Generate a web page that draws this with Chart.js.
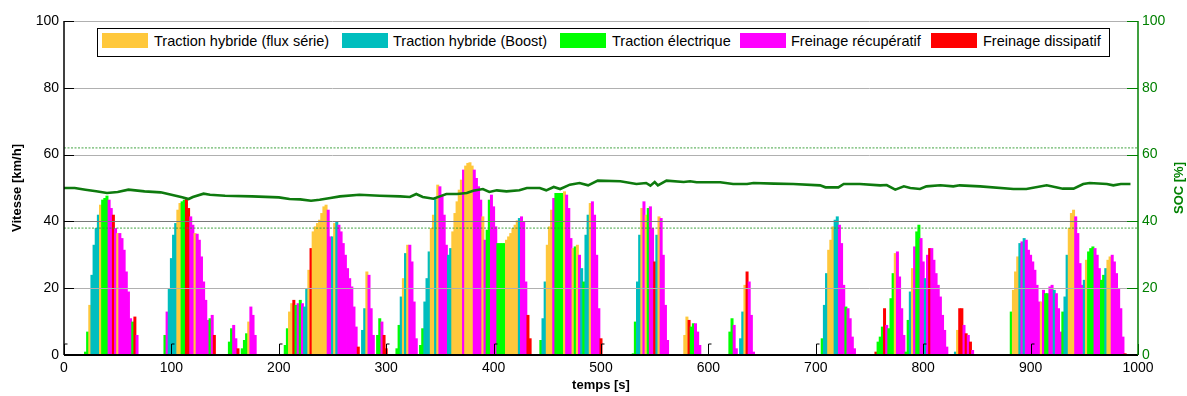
<!DOCTYPE html>
<html><head><meta charset="utf-8">
<script src="https://cdn.jsdelivr.net/npm/chart.js@4"></script>
<style>
html,body{margin:0;padding:0;background:#fff;}
#wrap{position:relative;width:1187px;height:396px;overflow:hidden;}
#c{position:absolute;left:0;top:0;}
#legend{position:absolute;left:97px;top:28px;width:1011px;height:27px;border:1px solid #000;background:#fff;font:14.5px "Liberation Sans",Arial,sans-serif;}
.sw{position:absolute;top:4px;width:46px;height:15px;}
.lt{position:absolute;top:4px;line-height:17px;white-space:nowrap;color:#000;}
</style></head>
<body><div id="wrap"><canvas id="c" width="1187" height="396" style="width:1187px;height:396px"></canvas><div id="legend"></div></div>
<script>
// ---------- data ----------
const modeKeys   = ['S','B','E','R','D'];
const modeLabels = ['Traction hybride (flux série)','Traction hybride (Boost)','Traction électrique','Freinage récupératif','Freinage dissipatif'];
const modeColors = ['#FFC83C','#00BEBE','#00FF00','#FF00FF','#FF0000'];

// start time [s] of each driving segment; bars every 2 s
const segStart = [20,94,154,166,206,278,292,310,332,444,530,578,620,630,706,756,784,830,882];
// vehicle speed [km/h]
const segSpeed = [
 [1,7,15,24,33,38,42,45,46.5,47,47.7,46.5,44,42,38,36.5,36.5,35,31.5,25,19,11,10,11.5,6],
 [6,13,20,29,36,39.5,43.5,45.5,46,46.5,47,44,41.5,39,36.5,36.3,34.5,29.5,22,16.5,10.5,11,12,6],
 [4,8,9,5,2],
 [2,4.5,6.5,10,14.5,12,6],
 [3,8,13,15.5,16.5,15,15.5,16.5,15.5,14.5,20,25.5,32,37,38.5,39.5,40.5,42.5,44.5,45,43.5,35.5,35.5,39.5,40,39,37,33.5,30,26,23,20.5,14.5,8.5,2.5],
 [7.5,14,25,24,14,6],
 [6,11,10,6,2],
 [2,9,17.5,23,30.5,33,33,28,16,5],
 [3,8,16,23,31,38,42,47,51,50.5,48,42,33,30,32,37,42.5,46,49.5,52.5,55.5,56.7,57.5,57.7,56.7,55.5,53,50.5,46.5,41.5,34.5,37.5,46.5,48,44.5,38.5,33.5,33.5,33.5,33.5,34.5,35.5,36.5,38,39,40.3,41,41.5,40,22,12,5],
 [4.5,11,22,33,38.5,43.5,47,48.5,48.5,48.5,48.5,49,48,44,35,32,32.5,33,30,26,22,36,42,45.5,46,42,30,14,5],
 [0.5,10,22,36,44,46,42,44,44.5,38,28,36,41.5,41,30,15,4.5],
 [6,11.5,10.5,8.5,9.5,9.5,7,3],
 [7,11,9,2],
 [5,13,21,25,22,12,1],
 [5,15,24.5,31.5,34.5,38.5,40.5,41.5,39,33.5,21,14.5,14,11,5.5,2],
 [1,4,5.5,8.5,14,9,8,17,24.5,30.5,31,23.5,14,6],
 [1,10.5,19,26,32.5,37,39,35,28,23,30,32,32,28.5,24.5,21,17.5,12,7.5,2.5],
 [1,7.5,14,14,9,6.5,6,4,1.5],
 [13,19.5,25,29.5,33.5,34,35,34.5,31.5,30,28,25.5,21,16,16,19.5,18.5,18.5,20.5,21,19.5,18.5,14,7,13,17.5,30,38,42.5,43.5,41.5,36.5,27.5,21,22.5,28.5,31,32,32.5,32,30,26,22.5,24,26,28.5,29.5,30,28,24.5,20,14,5.5,0.5]
];
// operating mode of each bar (S series, B boost, E electric, R regen, D dissipative)
const segMode = [
 "EESBB BBSEE ERRDR SRRRR RREDR",
 "ERBBB BSSEE DDRRS RRRRR RERD",
 "EERRD",
 "EEESRRR",
 "EESSD ERERB BSDSS SSSSS RRBSB RRRRR RRRRD",
 "BBSRRR",
 "EERDD",
 "EEBSBSRRRR",
 "EEBBB SSBSR RRRBB SSSSS RSSSS RRRRS REERR REEEE SSSSS SBRRR DD",
 "EBBSS SREEE ESRRR SESRB EBBSR RRRD",
 "EEBBS RSERR DBSRR RR",
 "SSDEERRR",
 "EERR",
 "BBSDRRR",
 "EBBSS SBBRR RERRR R",
 "DEEED REEES RRRR",
 "EEBSR EERRB RDRRR RRRRR",
 "BSDDRDRDR",
 "ESSSB RBRRR RRRRS REERR BRRRE BBSSS RRRRB SEEER RREEB SSRRR RRRD"
];
// state of charge [%]
const socTime  = [0,10,20,30,40,50,60,75,90,100, 110,116,120,130,136,150,175,200,210,220, 230,238,248,257,275,294,313,322,328,334, 344,350,356,366,375,381,390,396,403,412, 424,431,443,449,456,462,471,480,488,497, 518,533,542,546,550,553,561,577,583,589, 611,623,636,642,661,679,704,709,721,726, 741,760,766,774,782,788,797,803,816,828, 834,853,884,896,915,930,940,949,955,971, 977,984,993];
const socValue = [50,50,49.5,49,48.5,48.8,49.5,49,48.7,48, 47.2,46.7,47.3,48.3,48,47.7,47.5,47.2,46.7,46.6, 46.2,46.5,47,47.5,48,47.7,47.5,47.3,48.2,47.3, 46.8,47.5,48.2,48.2,48.5,49.2,49.7,48.8,49.3,49, 49.3,50,50,49.3,50.3,49.7,51,51.5,50.8,52.2, 52,51.2,51.5,50.7,51.8,50.8,52.2,51.8,52,51.7, 51.7,51.2,51.2,51.5,51.3,51.2,50.8,50.2,50.2,51.2, 51.2,50.8,50.9,49.5,50.5,50,49.7,50.5,50.8,50.5, 50.8,50.5,49.7,49.7,50.8,49.8,49.8,51.2,51.5,51.2, 50.8,51.2,51.2];
const socLimits = [38, 62];
const xRange = [0, 1000], xStep = 100;
const yRange = [0, 100], yStep = 20;

// ---------- build ----------
const FONT = '"Liberation Sans", Arial, Helvetica, sans-serif';
const GREEN = '#008000';
const SOCLINE = '#0E7A0E';
Chart.defaults.font.family = FONT;
Chart.defaults.color = '#000';

const barData = [], barColors = [];
segStart.forEach((s, i) => {
  const m = segMode[i].replace(/\s/g, '');
  segSpeed[i].forEach((v, j) => {
    barData.push({x: s + 2*j, y: v});
    const k = modeKeys.indexOf(m[j]);
    barColors.push(modeColors[k < 0 ? 3 : k]);
  });
});
const socData = socTime.map((t, i) => ({x: t, y: socValue[i]}));
const limitSets = socLimits.map(v => ({
  type: 'line', yAxisID: 'y2', order: 2,
  data: [{x: xRange[0], y: v}, {x: xRange[1], y: v}],
  borderColor: '#2E9A2E', borderWidth: 0.9, borderDash: [2, 1.5],
  pointRadius: 0, fill: false
}));

// legend (HTML)
const lg = document.getElementById('legend');
const swX = [4, 244, 462, 642, 833], txX = [56, 295, 514, 693, 885];
modeLabels.forEach((lab, i) => {
  const s = document.createElement('div'); s.className = 'sw';
  s.style.left = swX[i] + 'px'; s.style.background = modeColors[i]; lg.appendChild(s);
  const t = document.createElement('div'); t.className = 'lt';
  t.style.left = txX[i] + 'px'; t.textContent = lab; lg.appendChild(t);
});

const decor = {
  id: 'decor',
  afterDatasetDraw(chart, args) {
    if (args.index !== 0) return;
    const {ctx, chartArea: a, scales: {y}} = chart;
    ctx.save();
    ctx.lineWidth = 1;
    y.ticks.forEach(t => {
      if (t.value === 0) return;
      const py = Math.round(y.getPixelForValue(t.value)) + 0.5;
      ctx.strokeStyle = t.value === 40 ? '#7A7A7A' : '#B0B0B0';
      ctx.beginPath(); ctx.moveTo(a.left, py); ctx.lineTo(a.right, py); ctx.stroke();
    });
    ctx.restore();
  },
  afterDraw(chart) {
    const {ctx, chartArea: a, scales: {x, y, y2}} = chart;
    ctx.save();
    ctx.lineWidth = 1;
    ctx.strokeStyle = '#000';
    y.ticks.forEach(t => {
      const py = Math.round(y.getPixelForValue(t.value)) + 0.5;
      ctx.beginPath(); ctx.moveTo(a.left, py); ctx.lineTo(a.left + 10, py); ctx.stroke();
    });
    ctx.strokeStyle = GREEN;
    y2.ticks.forEach(t => {
      const py = Math.round(y2.getPixelForValue(t.value)) + 0.5;
      ctx.beginPath(); ctx.moveTo(a.right, py); ctx.lineTo(a.right - 11, py); ctx.stroke();
    });
    ctx.strokeStyle = '#000';
    x.ticks.forEach(t => {
      const px = Math.round(x.getPixelForValue(t.value)) + 0.5;
      ctx.beginPath(); ctx.moveTo(px, a.bottom); ctx.lineTo(px, a.bottom - 11);
      if (t.value < xRange[1]) ctx.lineTo(px + 3, a.bottom - 11);
      ctx.stroke();
    });
    // axis lines
    ctx.lineWidth = 1.5; ctx.strokeStyle = '#000';
    ctx.beginPath(); ctx.moveTo(a.left, a.top); ctx.lineTo(a.left, a.bottom); ctx.stroke();
    ctx.lineWidth = 2;
    ctx.beginPath(); ctx.moveTo(a.left, a.bottom); ctx.lineTo(a.right, a.bottom); ctx.stroke();
    ctx.lineWidth = 1.5; ctx.strokeStyle = GREEN;
    ctx.beginPath(); ctx.moveTo(a.right, a.top); ctx.lineTo(a.right, a.bottom); ctx.stroke();
    // SOC title (reads bottom to top)
    ctx.translate(1179, (a.top + a.bottom) / 2);
    ctx.rotate(-Math.PI / 2);
    ctx.fillStyle = GREEN; ctx.font = 'bold 13px ' + FONT;
    ctx.textAlign = 'center'; ctx.textBaseline = 'middle';
    ctx.fillText('SOC [%]', 0, 0);
    ctx.restore();
  }
};

new Chart(document.getElementById('c'), {
  type: 'bar',
  data: {
    datasets: [
      {type: 'bar', label: 'Vitesse', data: barData, backgroundColor: barColors,
       borderWidth: 0, barThickness: 3, inflateAmount: 0, order: 10, yAxisID: 'y'},
      ...limitSets,
      {type: 'line', label: 'SOC', yAxisID: 'y2', order: 1, data: socData,
       borderColor: SOCLINE, borderWidth: 2.6, pointRadius: 0, fill: false, tension: 0}
    ]
  },
  options: {
    responsive: false, animation: false,
    layout: {padding: {top: 21, left: 0, right: 0, bottom: 0}},
    plugins: {legend: {display: false}, tooltip: {enabled: false}},
    scales: {
      x: {type: 'linear', min: xRange[0], max: xRange[1], offset: false,
          grid: {display: false, drawTicks: false}, border: {display: false},
          ticks: {stepSize: xStep, font: {size: 14}, color: '#000', padding: 5, maxRotation: 0,
                  callback: v => String(v)},
          title: {display: true, text: 'temps [s]', font: {size: 13, weight: 'bold'}, color: '#000', padding: {top: 0, bottom: 3}},
          afterFit(s) { s.height = 41; }},
      y: {position: 'left', min: yRange[0], max: yRange[1],
          grid: {display: false, drawTicks: false}, border: {display: false},
          ticks: {stepSize: yStep, font: {size: 14}, color: '#000', padding: 5},
          title: {display: true, text: 'Vitesse [km/h]', font: {size: 13, weight: 'bold'}, color: '#000', padding: {top: 10, bottom: 0}},
          afterFit(s) { s.width = 64; }},
      y2: {position: 'right', min: yRange[0], max: yRange[1],
          grid: {display: false, drawTicks: false}, border: {display: false},
          ticks: {stepSize: yStep, font: {size: 14}, color: GREEN, padding: 4},
          afterFit(s) { s.width = 49; }}
    }
  },
  plugins: [decor]
});
</script>
</body></html>
